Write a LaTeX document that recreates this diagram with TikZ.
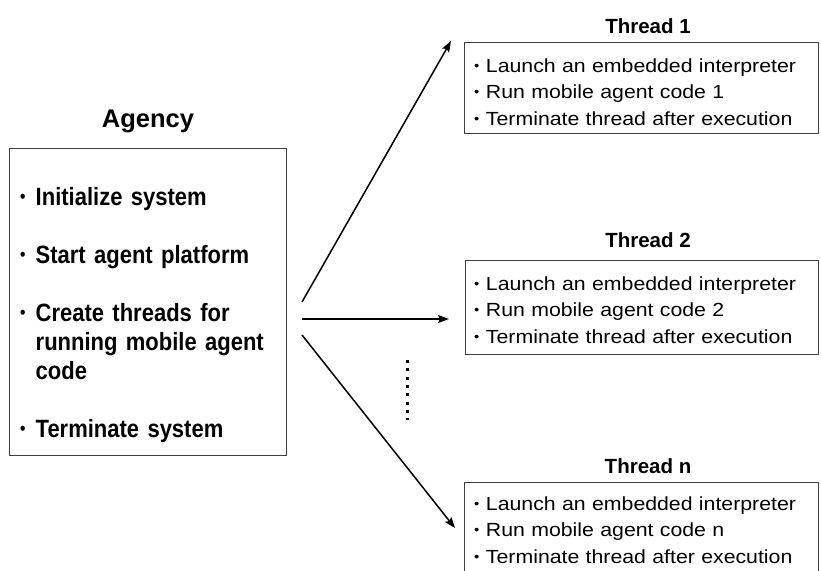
\documentclass[tikz,border=0pt]{standalone}
\usepackage{fontspec}
\setmainfont{Liberation Sans}
\newfontfamily\threadfont[FakeStretch=1.12]{Liberation Sans}
\newfontfamily\agencyfont[FakeStretch=0.88]{Liberation Sans Bold}
\usetikzlibrary{arrows.meta}
\newcommand\bul{\makebox[0.62em][l]{\raisebox{0.1em}{\scalebox{0.7}{•}}}}
\tikzset{
    box/.style={draw=black!75,line width=0.9pt,anchor=north west,inner sep=0pt},
    title/.style={anchor=base,font=\bfseries\fontsize{20.5}{24}\selectfont},
    steps/.style={anchor=base west,align=left,inner sep=0pt,text width=340pt,
        font=\threadfont\fontsize{19}{26.7}\selectfont},
    spawn/.style={line width=1.5pt,-{Stealth[length=11pt,width=8pt,inset=2pt]}}
}
\begin{document}
\begin{tikzpicture}[x=1pt,y=-1pt]
        \useasboundingbox (0,0) rectangle (821,570);
        % Draw agency
        \node[anchor=base,font=\bfseries\fontsize{25.5}{30}\selectfont] (agencytitle) at (148,127) {Agency};
        \node[box,minimum width=277pt,minimum height=307pt] (agency) at (9,148) {};
        \node[anchor=base west,align=left,inner sep=0pt,text width=265pt,
            font=\agencyfont\fontsize{25}{29}\selectfont] (agencytext) at (20,205) {
            \bul Initialize system\\[29pt]
            \bul Start agent platform\\[29pt]
            \bul Create threads for\\
            \phantom{\bul}running mobile agent\\
            \phantom{\bul}code\\[29pt]
            \bul Terminate system
        };
        % Draw threads
        \node[title] (title1) at (648,33) {Thread 1};
        \node[box,minimum width=354pt,minimum height=91pt] (thread1) at (464,42) {};
        \node[steps] (steps1) at (474,72) {\bul Launch an embedded interpreter\\ \bul Run mobile agent code 1\\ \bul Terminate thread after execution};
        \node[title] (title2) at (648,247) {Thread 2};
        \node[box,minimum width=353pt,minimum height=94pt] (thread2) at (465,260) {};
        \node[steps] (steps2) at (474,290) {\bul Launch an embedded interpreter\\ \bul Run mobile agent code 2\\ \bul Terminate thread after execution};
        \node[title] (titlen) at (648,473) {Thread n};
        \node[box,minimum width=354pt,minimum height=96pt] (threadn) at (464,482) {};
        \node[steps] (stepsn) at (474,510) {\bul Launch an embedded interpreter\\ \bul Run mobile agent code n\\ \bul Terminate thread after execution};
        % Draw arrows
        \coordinate (out1) at (302,302);
        \coordinate (out2) at (302,319);
        \coordinate (out3) at (302,335);
        \coordinate (in1) at (451,41);
        \coordinate (in2) at (449,319);
        \coordinate (in3) at (455,528);
        \draw[spawn] (out1) -- (in1);
        \draw[spawn] (out2) -- (in2);
        \draw[spawn] (out3) -- (in3);
        % Draw dots
        \coordinate (dottop) at (407,360);
        \coordinate (dotbot) at (407,420);
        \draw[line width=3pt,dash pattern=on 3pt off 5.3pt] (dottop) -- (dotbot);
    \end{tikzpicture}
\end{document}
